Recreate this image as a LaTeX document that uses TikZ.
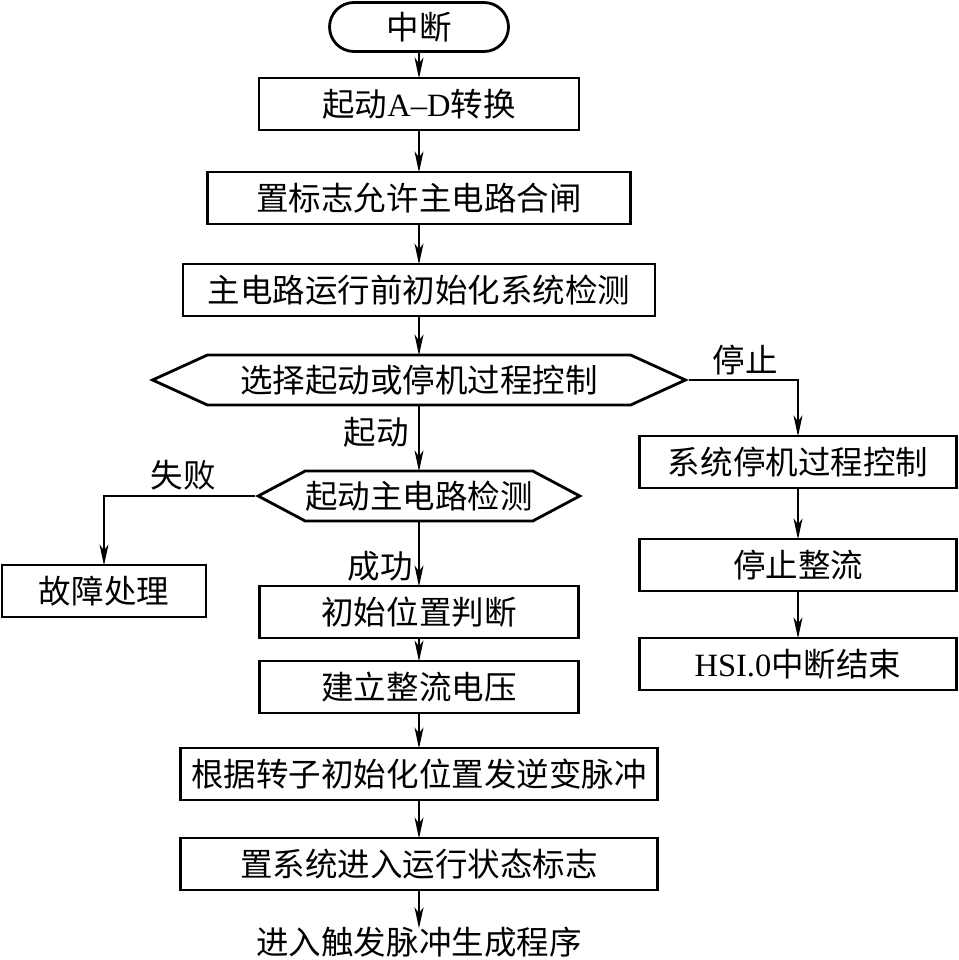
\documentclass[tikz,border=0pt]{standalone}
\usepackage{fontspec}
\setmainfont{Liberation Serif}
\newfontfamily\cjk{Noto Sans CJK SC}
\usetikzlibrary{arrows.meta,shapes.symbols}

\tikzset{
  txt/.style={font=\cjk\fontsize{18.5}{20}\selectfont, inner sep=0pt},
  box/.style={txt, draw, line width=1.6pt, minimum height=1.04cm},
  term/.style={box, rounded corners=0.49cm, minimum height=0.98cm},
  hexa/.style={box, signal, signal to=west and east, minimum height=1cm},
  flow/.style={-{Stealth[length=4.2mm,width=1.8mm,inset=1.2mm]}, line width=0.7pt, shorten >=-1pt},
  line/.style={line width=0.7pt}
}

\begin{document}
\begin{tikzpicture}[x=0.02cm, y=-0.02cm]
    \useasboundingbox (0,0) rectangle (959,960);

    % main column
    \node[term, minimum width=3.58cm] (start) at (419,27) {中断};
    \node[box, minimum width=6.4cm] (ad) at (419,104) {起动{\rmfamily A--D}转换};
    \node[box, minimum width=8.46cm] (flag) at (419,198) {置标志允许主电路合闸};
    \node[box, minimum width=9.44cm] (init) at (419,290) {主电路运行前初始化系统检测};
    \node[hexa, minimum width=10.66cm, signal pointer angle=49] (sel) at (419,380) {选择起动或停机过程控制};
    \node[hexa, minimum width=6.32cm, signal pointer angle=56] (chk) at (419,496) {起动主电路检测};
    \node[box, minimum width=6.38cm] (pos) at (419,612) {初始位置判断};
    \node[box, minimum width=6.38cm] (volt) at (419,687) {建立整流电压};
    \node[box, minimum width=9.54cm] (pulse) at (419,774) {根据转子初始化位置发逆变脉冲};
    \node[box, minimum width=9.54cm] (run) at (419,864) {置系统进入运行状态标志};
    \node[txt] (next) at (419,942) {进入触发脉冲生成程序};

    % side branches
    \node[box, minimum width=4.08cm] (fault) at (104,591) {故障处理};
    \node[box, minimum width=6.34cm] (stopctl) at (798,462) {系统停机过程控制};
    \node[box, minimum width=6.34cm] (rect) at (798,565) {停止整流};
    \node[box, minimum width=6.34cm] (fin) at (798,664) {{\rmfamily HSI.0}中断结束};

    % labels
    \node[txt] (lstop) at (745,360) {停止};
    \node[txt] (lgo) at (376,432) {起动};
    \node[txt] (lfail) at (183,475) {失败};
    \node[txt] (lok) at (380,566) {成功};

    % connectors
    \draw[flow] (start) -- (ad);
    \draw[flow] (ad) -- (flag);
    \draw[flow] (flag) -- (init);
    \draw[flow] (init) -- (sel.north);
    \draw[flow] (sel.south) -- (chk.north);
    \draw[flow] (chk.south) -- (pos);
    \draw[flow] (pos) -- (volt);
    \draw[flow] (volt) -- (pulse);
    \draw[flow] (pulse) -- (run);
    \draw[flow] (run) -- (next);
    \draw[flow] (sel.east) -| (stopctl.north);
    \draw[flow] (stopctl) -- (rect);
    \draw[flow] (rect) -- (fin);
    \draw[flow] (chk.west) -| (fault.north);
\end{tikzpicture}
\end{document}
